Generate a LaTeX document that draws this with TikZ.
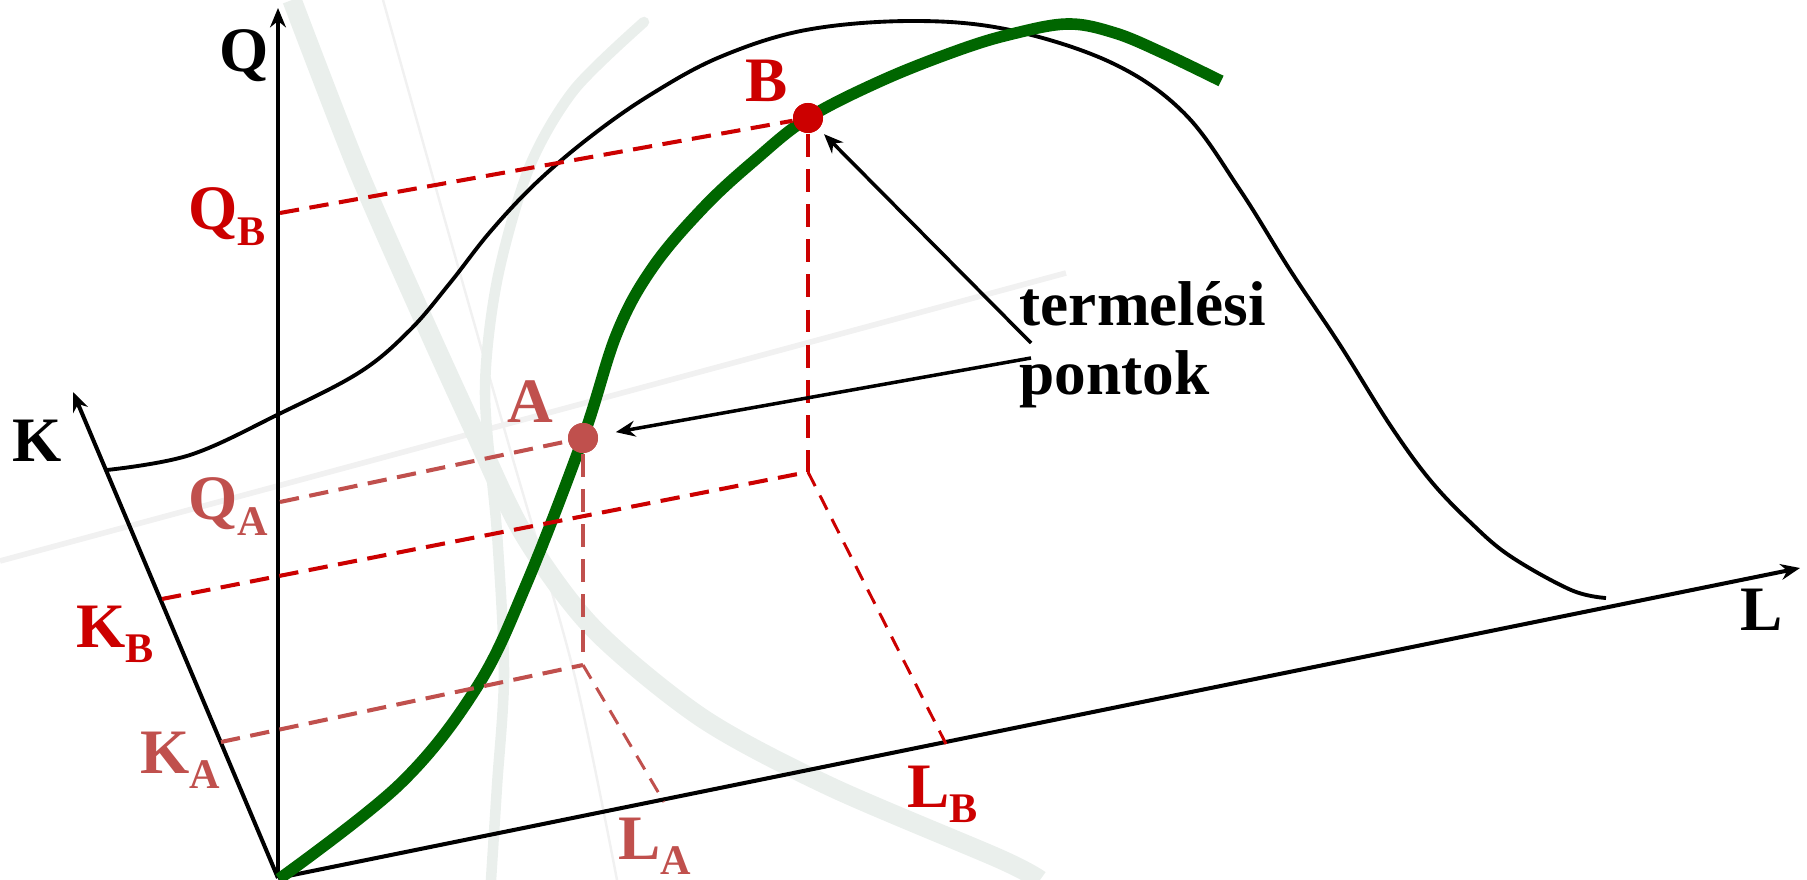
\documentclass[tikz,border=0pt]{standalone}
\usepackage{fontspec}
\setmainfont{Liberation Serif}
\usetikzlibrary{arrows.meta, calc}
\definecolor{ptred}{RGB}{204,0,0}
\definecolor{ptrose}{RGB}{192,80,77}
\definecolor{isoq}{RGB}{0,102,0}
\definecolor{wmark}{RGB}{234,239,236}
\definecolor{wline}{RGB}{241,241,241}
\newcommand{\lowsub}[1]{\raisebox{-4.3pt}{\fontsize{12}{12}\selectfont #1}}

\begin{document}
\begin{tikzpicture}[
    x=0.01cm, y=-0.01cm,
    font=\fontsize{18}{20}\selectfont\bfseries,
    axis/.style={line width=1.15pt, -{Stealth[length=5.5pt, width=4.5pt]}},
    surf/.style={line width=1.1pt},
    prodcurve/.style={line width=3.3pt, color=isoq},
    proj/.style={line width=1.15pt, dash pattern=on 5.5pt off 3pt},
    projv/.style={line width=1.25pt, dash pattern=on 6.5pt off 3.5pt},
    projl/.style={line width=0.85pt, dash pattern=on 4.5pt off 3pt},
    dot/.style={circle, inner sep=0pt, minimum size=0.3cm},
    lbl/.style={inner sep=0pt, anchor=base west},
    pointer/.style={line width=1pt, -{Stealth[length=5.5pt, width=4.5pt]}},
  ]
  \useasboundingbox (0,0) rectangle (1807,880);

  % faint background swooshes
  \draw[wline, line width=1.6pt] (0,561) -- (1066,273);
  \draw[wline, line width=0.7pt] plot[smooth] coordinates {(383,0) (446,224) (510,449) (574,673) (617,880)};
  \draw[wmark, line width=5.5pt] plot[smooth] coordinates
    {(292,0) (357,168) (421,314) (472,426) (523,533) (593,628) (702,718) (829,786) (1000,859) (1040,880)};
  \draw[wmark, line width=3pt, line cap=round] plot[smooth] coordinates
    {(644,22) (574,90) (529,168) (497,281) (485,393) (497,533) (504,673) (497,786) (491,880)};

  % axes
  \coordinate (O) at (278,878);
  \coordinate (qtip) at (278,8);
  \coordinate (ktip) at (73,392);
  \coordinate (ltip) at (1800,568);
  \draw[axis] (O) -- (qtip);
  \draw[axis] (O) -- (ktip);
  \draw[axis] (O) -- (ltip);

  % surface edge
  \draw[surf] plot[smooth, tension=0.6] coordinates {(107,470) (190,455) (279,414) (360,372) (410,330)
    (450,283) (490,232) (536,183) (590,137) (650,95) (720,57) (806,30) (913,21) (1010,30) (1112,63)
    (1184,113) (1240,190) (1290,270) (1340,345) (1390,425) (1430,480) (1470,522) (1510,556)
    (1571,590) (1606,598)};

  % production curve
  \draw[prodcurve] plot[smooth, tension=0.6] coordinates {(279,879) (400,784) (477,687) (526,585)
    (583,438) (617,333) (653,267) (704,207) (755,160) (808,118) (883,80) (959,50) (1012,34)
    (1068,24) (1115,33) (1163,53) (1221,81)};

  \node[dot, fill=ptred] (ptB) at (808,118) {};
  \node[dot, fill=ptrose] (ptA) at (583,438) {};

  \coordinate (qb0) at (280,213);
  \coordinate (qa0) at (280,502);
  \coordinate (pb) at (808,472);
  \coordinate (pa) at (583,665);
  \coordinate (kb0) at (162,599);
  \coordinate (ka0) at (221,742);
  \coordinate (lb0) at (946,744);
  \coordinate (la0) at (664,802);

  \draw[proj, ptred] (qb0) -- (ptB);
  \draw[projv, ptred] (ptB) -- (pb);
  \draw[proj, ptred] (kb0) -- (pb);
  \draw[projl, ptred] (pb) -- (lb0);
  \draw[proj, ptrose] (qa0) -- (ptA);
  \draw[projv, ptrose] (ptA) -- (pa);
  \draw[proj, ptrose] (ka0) -- (pa);
  \draw[projl, ptrose] (pa) -- (la0);

  \node[dot, fill=ptred] at (ptB) {};
  \node[dot, fill=ptrose] at (ptA) {};

  % labels
  \node[lbl] (qlab) at (219,72) {Q};
  \node[lbl] (klab) at (12,462) {K};
  \node[lbl] (llab) at (1740,630) {L};
  \node[lbl, ptred] (qblab) at (188,230) {Q\lowsub{B}};
  \node[lbl, ptrose] (qalab) at (188,520) {Q\lowsub{A}};
  \node[lbl, ptred] (kblab) at (76,647) {K\lowsub{B}};
  \node[lbl, ptrose] (kalab) at (140,773) {K\lowsub{A}};
  \node[lbl, ptrose] (lalab) at (618,859) {L\lowsub{A}};
  \node[lbl, ptred] (lblab) at (907,807) {L\lowsub{B}};
  \node[inner sep=0pt, anchor=base, ptrose] (alab) at (530,423) {A};
  \node[inner sep=0pt, anchor=base, ptred] (blab) at (767,102) {B};

  \node[lbl] (term) at (1019,326) {termelési};
  \node[lbl] (pont) at (1019,395) {pontok};
  \coordinate (s1) at (1031,343);
  \coordinate (s2) at (1031,358);
  \draw[pointer, shorten >=2pt] (s1) -- (ptB);
  \draw[pointer, shorten >=5pt] (s2) -- (ptA);
\end{tikzpicture}
\end{document}
